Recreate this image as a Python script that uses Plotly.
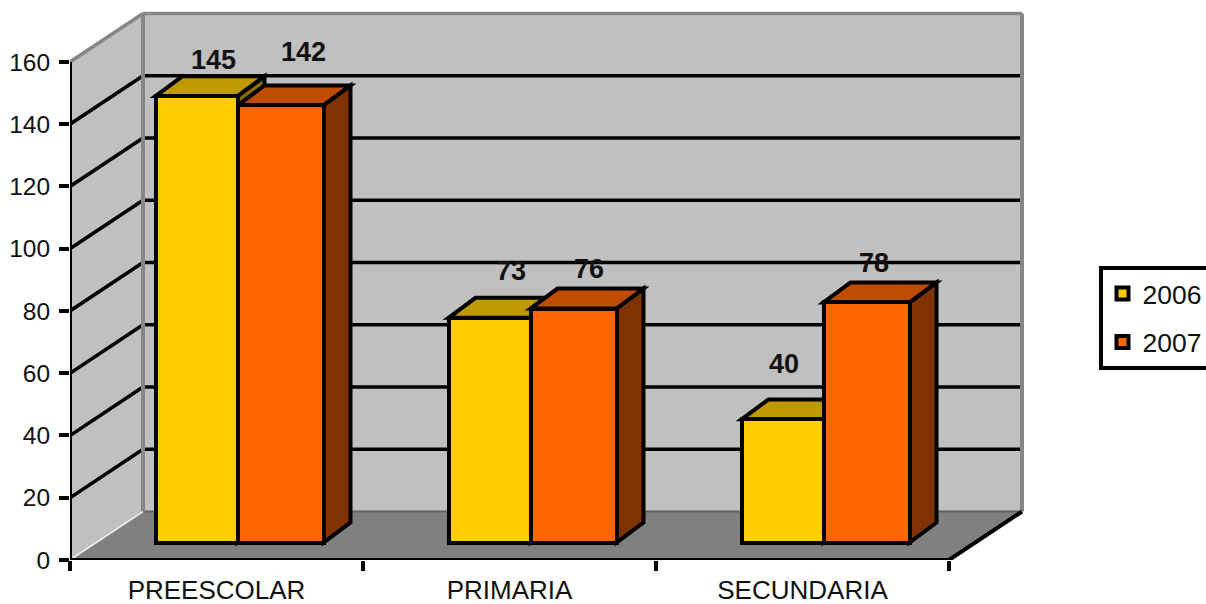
import plotly.graph_objects as go

categories = ["PREESCOLAR", "PRIMARIA", "SECUNDARIA"]
series_names = ["2006", "2007"]
values_2006 = [145, 73, 40]
values_2007 = [142, 76, 78]
y_ticks = [0, 20, 40, 60, 80, 100, 120, 140, 160]

# pixel projection of the oblique 3D look
X0, XR, YB, YT = 70, 1030, 560.5, 5
PX_X = 293.0           # px per category
PX_Y = 498.5 / 160     # px per value unit
WALL_DX, WALL_DY = 73 / PX_X, 48.5 / PX_Y
BAR_DX, BAR_DY = 27 / PX_X, 20 / PX_Y
BAR_BASE = 17.5 / PX_Y
BAR_SCALE = 0.989
BAR_LEFT = [85.5 / PX_X, 167.5 / PX_X]
BAR_WIDTH = [82 / PX_X, 86 / PX_X]
FRONT = ["#FFCC00", "#FF6600"]
TOP = ["#BF9900", "#C04C00"]
SIDE = ["#8A6E00", "#803300"]
LW = 4
GRID_W = 3.5
n = len(categories)
XMAX = (XR - X0) / PX_X
YMAX = (YB - YT) / PX_Y


def poly(points, fill, line=None, width=0, layer="below"):
    path = "M " + " L ".join(f"{x},{y}" for x, y in points) + " Z"
    return dict(type="path", xref="x", yref="y", path=path, fillcolor=fill, layer=layer,
                line=dict(color=line or fill, width=width))


def seg(a, b, color="black", width=GRID_W):
    return dict(type="line", xref="x", yref="y", x0=a[0], y0=a[1], x1=b[0], y1=b[1],
                layer="below", line=dict(color=color, width=width))


shapes = []
top_tick = y_ticks[-1]
# floor, walls
shapes.append(poly([(0, 0), (n, 0), (n + WALL_DX, WALL_DY), (WALL_DX, WALL_DY)], "#808080"))
shapes.append(poly([(0, 0), (WALL_DX, WALL_DY), (WALL_DX, top_tick + WALL_DY), (0, top_tick)], "#C0C0C0"))
shapes.append(poly([(WALL_DX, WALL_DY), (n + WALL_DX, WALL_DY), (n + WALL_DX, top_tick + WALL_DY),
                    (WALL_DX, top_tick + WALL_DY)], "#C0C0C0"))
# gridlines
for t in y_ticks[1:-1]:
    shapes.append(seg((0, t), (WALL_DX, t + WALL_DY)))
    shapes.append(seg((WALL_DX, t + WALL_DY), (n + WALL_DX, t + WALL_DY)))
# wall edges
EDGE = "#868686"
shapes.append(seg((WALL_DX, WALL_DY), (n + WALL_DX, WALL_DY), "#606060", 2))
shapes.append(seg((0, top_tick), (WALL_DX, top_tick + WALL_DY), EDGE, 3.5))
shapes.append(seg((WALL_DX, top_tick + WALL_DY), (n + WALL_DX, top_tick + WALL_DY), EDGE, 3.5))
shapes.append(seg((WALL_DX, WALL_DY), (WALL_DX, top_tick + WALL_DY), EDGE, 4))
shapes.append(seg((n + WALL_DX, WALL_DY), (n + WALL_DX, top_tick + WALL_DY), EDGE, 4))
shapes.append(seg((0, 0), (WALL_DX, WALL_DY), "#F0F0F0", 1.5))

# top and side faces of the bars
for j, vals in enumerate([values_2006, values_2007]):
    for i, v in enumerate(vals):
        l = i + BAR_LEFT[j]
        r = l + BAR_WIDTH[j]
        b = BAR_BASE
        t = b + v * BAR_SCALE
        shapes.append(poly([(r, b), (r + BAR_DX, b + BAR_DY), (r + BAR_DX, t + BAR_DY), (r, t)],
                           SIDE[j], "black", LW))
        shapes.append(poly([(l, t), (l + BAR_DX, t + BAR_DY), (r + BAR_DX, t + BAR_DY), (r, t)],
                           TOP[j], "black", LW))

fig = go.Figure()
for j, (name, vals) in enumerate(zip(series_names, [values_2006, values_2007])):
    fig.add_trace(go.Bar(
        name=name, legendgroup=name,
        x=[i + BAR_LEFT[j] + BAR_WIDTH[j] / 2 for i in range(n)],
        y=[v * BAR_SCALE for v in vals], base=BAR_BASE, width=BAR_WIDTH[j],
        customdata=categories, hovertemplate="%{customdata}: %{text}<extra>" + name + "</extra>", text=vals,
        textposition="none",
        marker=dict(color=FRONT[j], line=dict(color="black", width=LW)),
    ))

# axis lines, stopping at the last tick
for xs, ys in [([0, 0], [0, top_tick]), ([0, n], [0, 0]), ([n, n + WALL_DX], [0, WALL_DY])]:
    fig.add_trace(go.Scatter(x=xs, y=ys, mode="lines", cliponaxis=False, showlegend=False,
                             hoverinfo="skip", line=dict(color="black", width=4)))

# data labels, hand placed as in the source picture (px shift from bar top centre)
label_shift = [[(17, 36), (23, 53)], [(21, 47), (15, 40)], [(1, 55), (7, 39)]]
annotations = []
for j, vals in enumerate([values_2006, values_2007]):
    for i, v in enumerate(vals):
        sx, sy = label_shift[i][j]
        annotations.append(dict(
            x=i + BAR_LEFT[j] + BAR_WIDTH[j] / 2, y=BAR_BASE + v * BAR_SCALE, xref="x", yref="y",
            text=str(v), showarrow=False, xanchor="center", yanchor="middle", xshift=sx, yshift=sy,
            font=dict(family="Liberation Sans", size=27, color="#111111", weight="bold")))

fig.update_layout(
    width=1206, height=604, autosize=False,
    margin=dict(l=X0, r=1206 - XR, t=YT, b=604 - YB, pad=0, autoexpand=False),
    paper_bgcolor="white", plot_bgcolor="white",
    barmode="overlay", bargap=0,
    font=dict(family="Liberation Sans", color="#111111"),
    shapes=shapes, annotations=annotations,
    legend=dict(x=(1098.5 - X0) / (XR - X0), y=(YB - 266) / (YB - YT), xanchor="left", yanchor="top",
                bgcolor="white", bordercolor="black", borderwidth=4,
                font=dict(size=26.5, family="Liberation Sans", color="#111111"),
                traceorder="grouped", tracegroupgap=11),
    xaxis=dict(range=[0, XMAX], tickmode="array", tickvals=[i + 0.5 for i in range(n)], ticktext=categories,
               ticks="outside", ticklen=0, tickcolor="rgba(0,0,0,0)", showgrid=False, zeroline=False, showline=False,
               ticklabelstandoff=7,
               tickfont=dict(size=26, family="Liberation Sans", color="#111111"),
               minor=dict(tickmode="array", tickvals=list(range(n + 1)), ticks="outside", ticklen=10, tickwidth=3.5,
                          tickcolor="black", showgrid=False)),
    yaxis=dict(range=[0, YMAX], tickmode="array", tickvals=y_ticks, ticks="outside", ticklen=10, tickwidth=3.5,
               tickcolor="black", showgrid=False, zeroline=False, showline=False, ticklabelstandoff=4,
               tickfont=dict(size=24.5, family="Liberation Sans", color="#111111")),
)

fig.write_html("out.html", config={"displayModeBar": False},
               post_script="document.body.style.margin='0';document.body.style.overflow='hidden';")
